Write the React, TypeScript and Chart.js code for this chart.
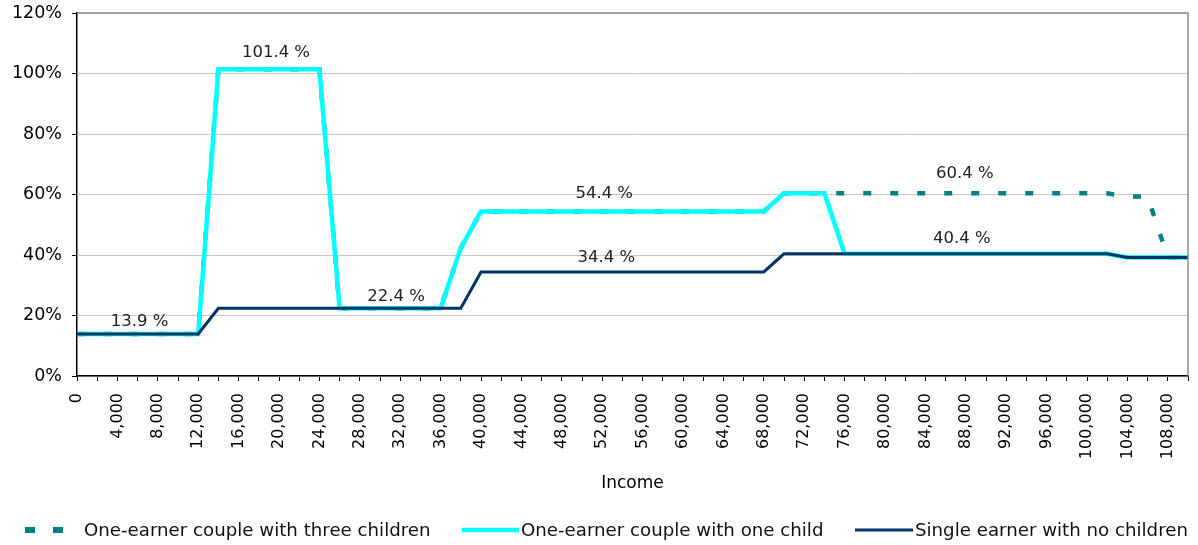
import React, { useEffect, useRef } from "react";
import { Chart, registerables } from "chart.js";

Chart.register(...registerables);

// Income categories (step of 2,000)
const incomeCategories = [
  0, 2000, 4000, 6000, 8000, 10000, 12000, 14000, 16000, 18000,
  20000, 22000, 24000, 26000, 28000, 30000, 32000, 34000, 36000, 38000,
  40000, 42000, 44000, 46000, 48000, 50000, 52000, 54000, 56000, 58000,
  60000, 62000, 64000, 66000, 68000, 70000, 72000, 74000, 76000, 78000,
  80000, 82000, 84000, 86000, 88000, 90000, 92000, 94000, 96000, 98000,
  100000, 102000, 104000, 106000, 108000, 110000,
];

// Effective marginal rates (%)
const threeChildren = [
  13.9, 13.9, 13.9, 13.9, 13.9, 13.9, 13.9, 101.4, 101.4, 101.4,
  101.4, 101.4, 101.4, 22.4, 22.4, 22.4, 22.4, 22.4, 22.4, 42.3,
  54.4, 54.4, 54.4, 54.4, 54.4, 54.4, 54.4, 54.4, 54.4, 54.4,
  54.4, 54.4, 54.4, 54.4, 54.4, 60.4, 60.4, 60.4, 60.4, 60.4,
  60.4, 60.4, 60.4, 60.4, 60.4, 60.4, 60.4, 60.4, 60.4, 60.4,
  60.4, 60.4, 59.3, 59.3, 39.2, 39.2,
];

const oneChild = [
  13.9, 13.9, 13.9, 13.9, 13.9, 13.9, 13.9, 101.4, 101.4, 101.4,
  101.4, 101.4, 101.4, 22.4, 22.4, 22.4, 22.4, 22.4, 22.4, 42.3,
  54.4, 54.4, 54.4, 54.4, 54.4, 54.4, 54.4, 54.4, 54.4, 54.4,
  54.4, 54.4, 54.4, 54.4, 54.4, 60.4, 60.4, 60.4, 40.4, 40.4,
  40.4, 40.4, 40.4, 40.4, 40.4, 40.4, 40.4, 40.4, 40.4, 40.4,
  40.4, 40.4, 39.2, 39.2, 39.2, 39.2,
];

const noChildren = [
  13.9, 13.9, 13.9, 13.9, 13.9, 13.9, 13.9, 22.4, 22.4, 22.4,
  22.4, 22.4, 22.4, 22.4, 22.4, 22.4, 22.4, 22.4, 22.4, 22.4,
  34.4, 34.4, 34.4, 34.4, 34.4, 34.4, 34.4, 34.4, 34.4, 34.4,
  34.4, 34.4, 34.4, 34.4, 34.4, 40.4, 40.4, 40.4, 40.4, 40.4,
  40.4, 40.4, 40.4, 40.4, 40.4, 40.4, 40.4, 40.4, 40.4, 40.4,
  40.4, 40.4, 39.2, 39.2, 39.2, 39.2,
];

const seriesNames = [
  "One-earner couple with three children",
  "One-earner couple with one child",
  "Single earner with no children",
];

const yTickValues = [0, 20, 40, 60, 80, 100, 120];

// Value labels written on the chart: text, category index and value where they sit
const valueLabelTexts = ["13.9 %", "101.4 %", "22.4 %", "54.4 %", "34.4 %", "60.4 %", "40.4 %"];
const valueLabelIndex = [3.1, 9.85, 15.8, 26.1, 26.2, 43.95, 43.8];
const valueLabelLevel = [17.9, 106.8, 26.1, 60.2, 39.0, 66.8, 45.3];

const FONT = "'DejaVu Sans', Verdana, sans-serif";

const COLORS = ["#008080", "#00FFFF", "#003366"];

const annotationPlugin = {
  id: "valueLabels",
  afterDatasetsDraw(chart: any) {
    const { ctx, scales } = chart;
    ctx.save();
    ctx.font = `16.5px ${FONT}`;
    ctx.fillStyle = "#222";
    ctx.textAlign = "center";
    ctx.textBaseline = "middle";
    valueLabelTexts.forEach((t, i) => {
      const x = scales.x.getPixelForValue(valueLabelIndex[i]);
      const y = scales.y.getPixelForValue(valueLabelLevel[i]);
      ctx.fillText(t, x, y);
    });
    ctx.restore();
  },
};

const borderPlugin = {
  id: "plotBorder",
  afterDraw(chart: any) {
    const { ctx, chartArea } = chart;
    ctx.save();
    ctx.strokeStyle = "#8c8c8c";
    ctx.lineWidth = 1.5;
    ctx.beginPath();
    ctx.moveTo(chartArea.left, chartArea.top);
    ctx.lineTo(chartArea.right, chartArea.top);
    ctx.lineTo(chartArea.right, chartArea.bottom);
    ctx.stroke();
    ctx.restore();
  },
};

const legendLayout = [
  { sx: 25, sw: 38, tx: 84 },
  { sx: 462, sw: 57, tx: 521 },
  { sx: 855, sw: 58, tx: 915 },
];

const legendPlugin = {
  id: "customLegend",
  afterDraw(chart: any) {
    const { ctx } = chart;
    const y = 530;
    ctx.save();
    chart.data.datasets.forEach((ds: any, i: number) => {
      const L = legendLayout[i];
      ctx.beginPath();
      ctx.strokeStyle = ds.borderColor;
      ctx.lineWidth = i === 0 ? 6 : ds.borderWidth;
      ctx.lineCap = "butt";
      ctx.setLineDash(i === 0 ? [10, 18] : []);
      ctx.moveTo(L.sx, y);
      ctx.lineTo(L.sx + L.sw, y);
      ctx.stroke();
      ctx.setLineDash([]);
      ctx.font = `18.2px ${FONT}`;
      ctx.fillStyle = "#111";
      ctx.textAlign = "left";
      ctx.textBaseline = "middle";
      ctx.fillText(ds.label, L.tx, y + 1);
    });
    ctx.restore();
  },
};

export default function App() {
  const canvasRef = useRef<HTMLCanvasElement | null>(null);

  useEffect(() => {
    if (!canvasRef.current) return;
    const chart = new Chart(canvasRef.current, {
      type: "line",
      data: {
        labels: incomeCategories.map((v) => v.toLocaleString("en-US")),
        datasets: [
          {
            label: seriesNames[0],
            data: threeChildren,
            borderColor: COLORS[0],
            backgroundColor: COLORS[0],
            borderWidth: 4.5,
            borderDash: [8, 19],
            pointRadius: 0,
            tension: 0,
            order: 3,
          },
          {
            label: seriesNames[1],
            data: oneChild,
            borderColor: COLORS[1],
            backgroundColor: COLORS[1],
            borderWidth: 4.5,
            pointRadius: 0,
            tension: 0,
            order: 2,
          },
          {
            label: seriesNames[2],
            data: noChildren,
            borderColor: COLORS[2],
            backgroundColor: COLORS[2],
            borderWidth: 3,
            pointRadius: 0,
            tension: 0,
            order: 1,
          },
        ],
      },
      options: {
        animation: false,
        responsive: true,
        maintainAspectRatio: false,
        layout: { padding: { left: 0, right: 10, top: 13, bottom: 0 } },
        plugins: {
          legend: { display: false },
          tooltip: { enabled: false },
        },
        scales: {
          x: {
            type: "category",
            offset: false,
            grid: {
              drawOnChartArea: false,
              drawTicks: true,
              tickLength: 5,
              tickColor: "#000",
            },
            border: { color: "#000", width: 1.5 },
            ticks: {
              autoSkip: false,
              minRotation: 90,
              maxRotation: 90,
              padding: 12,
              color: "#000",
              font: { family: FONT, size: 16 },
              callback: (_v: any, i: number) =>
                i % 2 === 0 ? incomeCategories[i].toLocaleString("en-US") : "",
            },
            title: {
              display: true,
              text: "Income",
              color: "#000",
              font: { family: FONT, size: 17 },
              padding: { top: 0, bottom: 51 },
            },
            afterFit: (s: any) => {
              s.height = 169;
              s.paddingLeft = 0;
              s.paddingRight = 0;
            },
          },
          y: {
            min: 0,
            max: 120,
            afterBuildTicks: (s: any) => {
              s.ticks = yTickValues.map((v) => ({ value: v }));
            },
            grid: {
              color: "#c8c8c8",
              lineWidth: 1,
              tickLength: 5,
              tickColor: "#000",
            },
            border: { color: "#000", width: 1.5 },
            ticks: {
              padding: 10,
              color: "#000",
              font: { family: FONT, size: 17.5 },
              callback: (v: any) => `${v}%`,
            },
            afterFit: (s: any) => {
              s.width = 77;
              s.paddingTop = 0;
              s.paddingBottom = 0;
            },
          },
        },
      },
      plugins: [annotationPlugin, borderPlugin, legendPlugin],
    });
    return () => chart.destroy();
  }, []);

  return (
    <div style={{ position: "fixed", left: 0, top: 0, width: 1198, height: 545, background: "#fff" }}>
      <canvas ref={canvasRef} />
    </div>
  );
}
